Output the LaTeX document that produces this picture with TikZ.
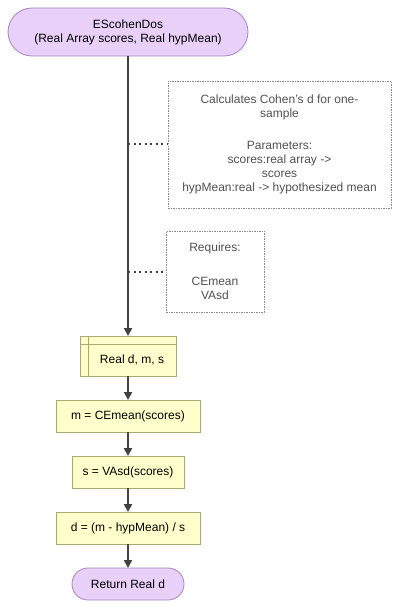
\documentclass[tikz,border=0pt]{standalone}
\usepackage{fontspec}
\setmainfont{Liberation Sans}
\usepackage{tikz}
\usetikzlibrary{arrows.meta,positioning,calc}
\definecolor{fnfill}{HTML}{E9D0F8}
\definecolor{fnline}{HTML}{A682C2}
\definecolor{prfill}{HTML}{FFFFCC}
\definecolor{prline}{HTML}{A9A970}
\definecolor{flow}{HTML}{404040}
\definecolor{ntline}{HTML}{8A8A8A}
\definecolor{nttext}{HTML}{505050}

\begin{document}
\begin{tikzpicture}[
  x=1pt, y=-1pt,
  font=\fontsize{12}{14}\selectfont,
  term/.style={rectangle, draw=fnline, fill=fnfill, line width=0.8pt,
               inner sep=0pt, outer sep=0pt, align=center},
  proc/.style={rectangle, draw=prline, fill=prfill, line width=0.8pt,
               minimum height=32pt, inner sep=0pt, outer sep=0pt, align=center},
  note/.style={rectangle, draw=ntline, line width=0.7pt, dash pattern=on 1.5pt off 1pt,
               text=nttext, inner sep=0pt, outer sep=0pt, align=center},
  arr/.style={-{Triangle[length=8pt,width=8pt]}, line width=2pt, draw=flow},
  link/.style={line width=2pt, draw=flow, dash pattern=on 2pt off 3.5pt}
]
  \useasboundingbox (0,0) rectangle (401,609);
  \node[term, minimum width=240pt, minimum height=48pt, rounded corners=24pt]
    (start) at (128,32) {EScohenDos\\(Real Array scores, Real hypMean)};
  \node[note, minimum width=223pt, minimum height=127pt] (info) at (279.5,144.5)
    {Calculates Cohen's d for one-\\sample\\[18pt]Parameters:\\scores:real array ->\\scores\\hypMean:real -> hypothesized mean};
  \node[note, minimum width=98pt, minimum height=81pt] (reqs) at (215,271.5)
    {Requires:\\[20pt]CEmean\\VAsd};
  \node[proc, minimum width=96pt, minimum height=40pt] (decl) at (128,356) {};
  \node (decltext) at ($(decl.center)+(4,4)$) {Real d, m, s};
  \node[proc, minimum width=144pt] (mean) at (128,416) {m = CEmean(scores)};
  \node[proc, minimum width=112pt] (sd)   at (128,472) {s = VAsd(scores)};
  \node[proc, minimum width=144pt] (eff)  at (128,528) {d = (m - hypMean) / s};
  \node[term, minimum width=112pt, minimum height=32pt, rounded corners=16pt]
    (ret) at (128,584) {Return Real d};
  % declaration box inner lines
  \draw[prline, line width=0.8pt] ($(decl.north west)+(8,0)$) -- ($(decl.south west)+(8,0)$);
  \draw[prline, line width=0.8pt] ($(decl.north west)+(0,8)$) -- ($(decl.north east)+(0,8)$);
  % flow
  \draw[arr] (start) -- (decl);
  \draw[arr] (decl) -- (mean);
  \draw[arr] (mean) -- (sd);
  \draw[arr] (sd)   -- (eff);
  \draw[arr] (eff)  -- (ret);
  % comments hooked to the main line
  \draw[link] (start |- info.west) -- (info.west);
  \draw[link] (start |- reqs.west) -- (reqs.west);
\end{tikzpicture}
\end{document}
